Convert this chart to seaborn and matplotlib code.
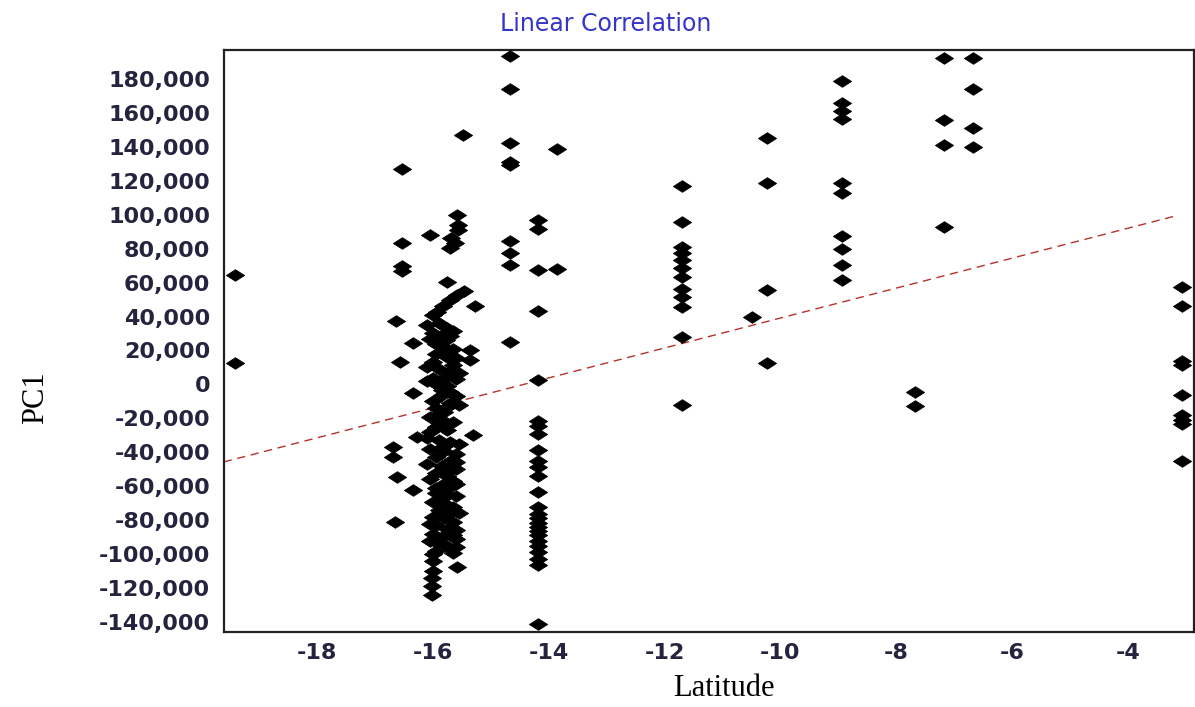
import matplotlib
matplotlib.use("Agg")
import matplotlib.pyplot as plt
from matplotlib.path import Path
from matplotlib.ticker import FuncFormatter, FixedLocator
import pandas as pd
import seaborn as sns

# ---------------- data ----------------
lat_a = [-19.42, -19.42]
pc1_a = [64500, 12600]

lat_b = [-16.53, -16.53, -16.53, -16.53, -16.64, -16.57, -16.34, -16.34, -16.28,
         -16.68, -16.68, -16.62, -16.34, -16.66]
pc1_b = [127000, 83500, 70000, 67000, 37300, 13400, 24200, -5300, -30800,
         -36700, -42600, -54400, -62300, -80900]

# dense cluster near -16
lat_c = [-15.59, -15.56, -15.56, -16.05, -15.68, -15.62, -15.70,
         -15.48, -15.27, -15.36, -15.36, -15.30, -15.59,
         -15.76, -15.47, -15.59, -15.70, -15.82, -15.93, -15.99,
         -16.10, -15.90, -15.75, -15.65, -16.00, -15.85, -15.70,
         -15.95, -15.80, -15.65, -15.95, -15.75, -15.60,
         -16.10, -15.90, -15.70, -15.55, -16.00, -15.80, -15.60, -15.95, -15.75,
         -15.85, -15.60, -16.00, -15.70, -15.55, -15.95, -15.80, -16.05, -15.85,
         -15.65, -15.95, -15.75, -16.05,
         -15.90, -15.70, -15.55, -16.05, -15.80, -15.60, -15.95, -15.70, -16.10,
         -15.85, -15.60, -15.95, -15.75, -16.05, -15.65, -15.85, -15.95,
         -15.95, -15.75, -15.60, -16.00, -15.80, -15.65, -15.90, -15.55, -16.00,
         -15.80, -15.65, -15.95, -15.75, -15.60, -16.00, -15.85, -15.60, -15.95,
         -15.75, -15.60, -15.95,
         -16.00, -16.00, -16.00, -16.02, -16.02, -16.02]
pc1_c = [99800, 94000, 90800, 88000, 86100, 83100, 80500,
         147000, 46200, 20300, 14500, -29800, -107400,
         60500, 55200, 52700, 49700, 46200, 42800, 40900,
         35000, 36000, 33500, 31500, 30000, 29000, 28500,
         24000, 22000, 21000, 18000, 16000, 15500,
         10000, 9000, 8000, 7000, 4000, 3500, 3000, 0, -1000,
         -6000, -7000, -10000, -11000, -12000, -14000, -16000, -19000, -21000,
         -22000, -25000, -27000, -28000,
         -33000, -34000, -35000, -38000, -39000, -41000, -43000, -45000, -47000,
         -48000, -50000, -52000, -54000, -56000, -57000, -59000, -61000,
         -64000, -65000, -66000, -69000, -70000, -72000, -74000, -76000, -78000,
         -79000, -81000, -83000, -85000, -86000, -88000, -90000, -91000, -93000,
         -95000, -96000, -98000,
         -100000, -104000, -110000, -114000, -119000, -124000]

lat_c2 = [-15.78, -16.05, -15.85, -16.00, -15.65,
          -16.10, -15.85, -15.70, -15.75,
          -15.95, -15.90, -16.10, -15.80,
          -15.60, -15.70, -15.60, -15.75,
          -15.85, -15.70, -16.05, -15.65,
          -16.05, -15.65]
pc1_c2 = [26000, 26500, 19000, 13000, 11500,
          2000, -3000, -4500, -13500,
          -18500, -23000, -31500, -36000,
          -45500, -50500, -58500, -61500,
          -67000, -75500, -82000, -88500,
          -92000, -99500]

lat_d = [-14.67] * 9
pc1_d = [193500, 174000, 142000, 131000, 129000, 84500, 77400, 70400, 25000]

lat_e = [-14.18] * 26 + [-13.85, -13.85]
pc1_e = [97000, 91500, 67500, 43500, 2600, -21300, -24700, -29300, -38400,
         -45100, -48600, -54200, -63200, -72000, -76500, -79000, -81500, -84000,
         -86500, -89000, -92000, -95000, -99000, -103000, -106500, -141400,
         138700, 68100]

lat_f = [-11.70] * 12
pc1_f = [116900, 95500, 80800, 77200, 73300, 68800, 63100, 56000, 51700, 45800,
         28100, -12100]

lat_g = [-10.49, -10.23, -10.23, -10.23, -10.23]
pc1_g = [39500, 145000, 118500, 55600, 12800]

lat_h = [-8.93] * 10
pc1_h = [179000, 166000, 161300, 156400, 118500, 112600, 87400, 79600, 70400, 61500]

lat_i = [-7.67, -7.67, -7.17, -7.17, -7.17, -7.17, -6.67, -6.67, -6.67, -6.67]
pc1_i = [-4700, -12900, 192200, 155800, 140900, 92600, 192200, 174100, 150900, 139700]

lat_j = [-3.06] * 9
pc1_j = [57200, 46400, 13700, 11400, -6100, -18000, -21000, -23500, -44900]

# fitted linear trend (end points)
fit_lat = [-19.61, -3.19]
fit_pc1 = [-45700, 99200]

x_ticks = [-18, -16, -14, -12, -10, -8, -6, -4]
y_ticks = [-140000, -120000, -100000, -80000, -60000, -40000, -20000, 0,
           20000, 40000, 60000, 80000, 100000, 120000, 140000, 160000, 180000]

title_text = "Linear Correlation"
x_label = "Latitude"
y_label = "PC1"

# ---------------- build frames ----------------
latitude = lat_a + lat_b + lat_c + lat_c2 + lat_d + lat_e + lat_f + lat_g + lat_h + lat_i + lat_j
pc1 = pc1_a + pc1_b + pc1_c + pc1_c2 + pc1_d + pc1_e + pc1_f + pc1_g + pc1_h + pc1_i + pc1_j
df = pd.DataFrame({"Latitude": latitude, "PC1": pc1})
fit_df = pd.DataFrame({"Latitude": fit_lat, "PC1": fit_pc1})

# ---------------- draw ----------------
sns.set_style("white")
plt.rcParams["font.family"] = ["DejaVu Sans"]

W, H = 1195, 707
fig = plt.figure(figsize=(W / 100, H / 100), dpi=100)
ax = fig.add_axes([224 / W, (H - 632) / H, 970 / W, 582 / H])

diamond = Path([(-1, 0), (0, 0.64), (1, 0), (0, -0.64), (-1, 0)],
               [Path.MOVETO, Path.LINETO, Path.LINETO, Path.LINETO, Path.CLOSEPOLY])

sns.lineplot(data=fit_df, x="Latitude", y="PC1", ax=ax, color="#b8322c",
             linewidth=1.0, linestyle=(0, (6, 4)), zorder=1)
sns.scatterplot(data=df, x="Latitude", y="PC1", ax=ax, marker=diamond, s=170,
                color="black", edgecolor="black", linewidth=0.6, zorder=3)

ax.set_xlim(-19.605, -2.861)
ax.set_ylim(-145900, 197060)
ax.xaxis.set_major_locator(FixedLocator(x_ticks))
ax.yaxis.set_major_locator(FixedLocator(y_ticks))
ax.yaxis.set_major_formatter(FuncFormatter(lambda v, p: f"{int(v):,}"))
ax.xaxis.set_major_formatter(FuncFormatter(lambda v, p: f"{int(v)}"))
ax.tick_params(axis="both", length=0, labelsize=16, colors="#24243e")
ax.tick_params(axis="y", pad=10)
ax.tick_params(axis="x", pad=8)
for lbl in ax.get_xticklabels() + ax.get_yticklabels():
    lbl.set_fontweight("bold")
ax.set_xlabel("")
ax.set_ylabel("")
for sp in ax.spines.values():
    sp.set_color("#222222")
    sp.set_linewidth(1.6)

fig.text(606 / W, 1 - 24 / H, title_text, ha="center", va="center",
         color="#3535c8", fontsize=17, family=["DejaVu Sans"])
fig.text(724 / W, 1 - 689 / H, x_label, ha="center", va="center",
         color="black", fontsize=22, family=["Liberation Serif"])
fig.text(36 / W, 1 - 398 / H, y_label, ha="center", va="center", rotation=90,
         color="black", fontsize=22, family=["Liberation Serif"])

fig.savefig("out.png", dpi=100)
